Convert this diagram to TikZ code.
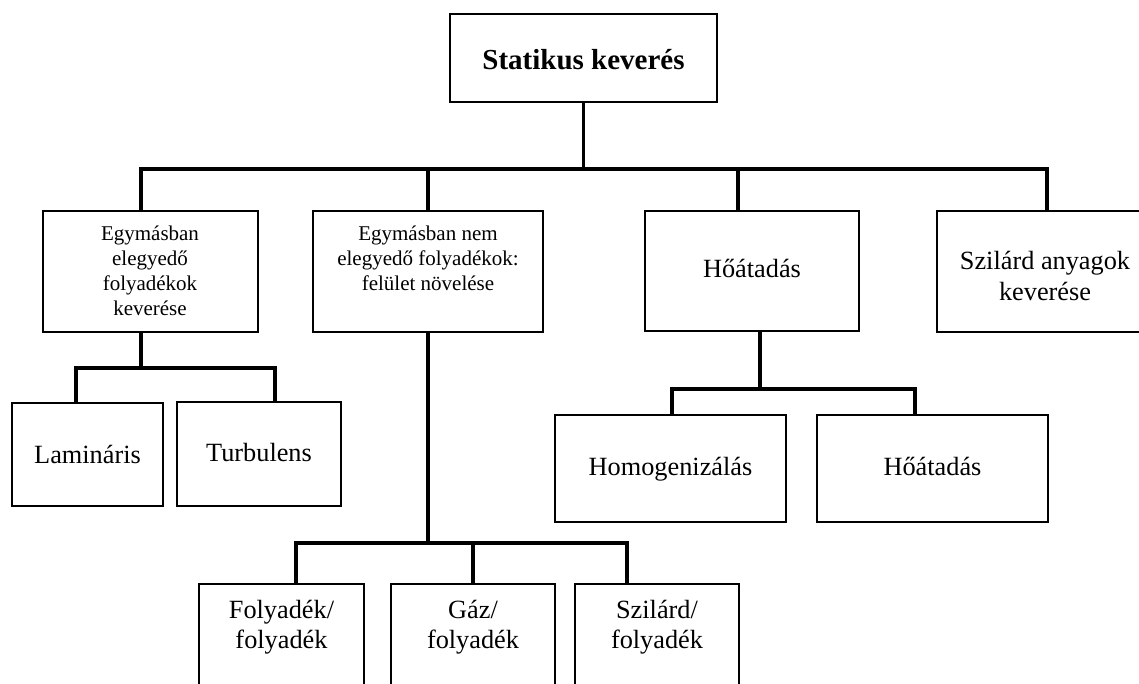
\documentclass[tikz,border=0pt]{standalone}
\usepackage{fontspec}
\setmainfont{Liberation Serif}
\usetikzlibrary{calc}

\newcommand{\lines}[1]{\begin{tabular}[t]{@{}c@{}}#1\end{tabular}}

\tikzset{
  box/.style={draw, line width=1.8pt, rectangle, inner sep=0pt, fill=white},
  conn/.style={draw, line width=3.8pt, line join=miter, line cap=rect},
  title/.style={anchor=base, inner sep=0pt, font=\fontsize{29}{35}\selectfont\bfseries},
  small/.style={anchor=base, inner sep=0pt, font=\fontsize{21}{25}\selectfont},
  big/.style={anchor=base, inner sep=0pt, font=\fontsize{26.3}{30}\selectfont},
}

\begin{document}
\begin{tikzpicture}[x=1pt, y=-1pt]
\useasboundingbox (0,0) rectangle (1139,684);
\clip (0,0) rectangle (1139,684);

% bus levels
\coordinate (busA) at (0,169);
\coordinate (busB) at (0,368);
\coordinate (busC) at (0,543);
\coordinate (busD) at (0,389);

% connectors first, boxes on top
% root
\coordinate (rootdrop) at (583.5,102);
% drop points on first-level boxes
\coordinate (d1) at (141,211);
\coordinate (d2) at (428,211);
\coordinate (d3) at (738,211);
\coordinate (d4) at (1047,211);

% boxes
\node[box, minimum width=267pt, minimum height=88pt]  (top) at (583.5,58) {};
\node[box, minimum width=215pt, minimum height=121pt] (b1)  at (150.5,271.5) {};
\node[box, minimum width=230pt, minimum height=121pt] (b2)  at (428,271.5) {};
\node[box, minimum width=214pt, minimum height=120pt] (b3)  at (752,271) {};
\node[box, minimum width=220pt, minimum height=121pt] (b4)  at (1047,271.5) {};
\node[box, minimum width=151pt, minimum height=103pt] (lam) at (87.5,454.5) {};
\node[box, minimum width=164pt, minimum height=104pt] (tur) at (259,454) {};
\node[box, minimum width=231pt, minimum height=107pt] (hom) at (670.5,468.5) {};
\node[box, minimum width=231pt, minimum height=107pt] (ho2) at (932.5,468.5) {};
\node[box, minimum width=165pt, minimum height=136pt] (f1)  at (281.5,652) {};
\node[box, minimum width=164pt, minimum height=136pt] (f2)  at (473,652) {};
\node[box, minimum width=164pt, minimum height=136pt] (f3)  at (657,652) {};

% first level
\draw[conn] (top.south) -- (top.south |- busA);
\draw[conn] ([xshift=-9.5pt]b1.north) |- (busA -| d4) -- ([xshift=0pt]b4.north);
\draw[conn] (b2.north) -- (b2.north |- busA);
\draw[conn] ([xshift=-14pt]b3.north) -- ([xshift=-14pt]b3.north |- busA);

% under b1
\draw[conn] ([xshift=-9.5pt]b1.south) -- ([xshift=-9.5pt]b1.south |- busB);
\draw[conn] ([xshift=-11.5pt]lam.north) |- ([xshift=16pt]tur.north |- busB) -- ([xshift=16pt]tur.north);

% under b2
\draw[conn] (b2.south) -- (b2.south |- busC);
\draw[conn] ([xshift=14.5pt]f1.north) |- ([xshift=-30pt]f3.north |- busC) -- ([xshift=-30pt]f3.north);
\draw[conn] (f2.north) -- (f2.north |- busC);

% under b3
\draw[conn] ([xshift=8pt]b3.south) -- ([xshift=8pt]b3.south |- busD);
\draw[conn] ([xshift=1.5pt]hom.north) |- ([xshift=-17.5pt]ho2.north |- busD) -- ([xshift=-17.5pt]ho2.north);

% labels
\node[title] (ttop) at (583.5,70) {Statikus keverés};
\node[small] (t1) at (150,241) {\lines{Egymásban\\elegyedő\\folyadékok\\keverése}};
\node[small] (t2) at (428,241) {\lines{Egymásban nem\\elegyedő folyadékok:\\felület növelése}};
\node[big] (t3) at (752,277) {Hőátadás};
\node[big] (t4) at (1045,270) {\lines{Szilárd anyagok\\keverése}};
\node[big] (tlam) at (87.5,463) {Lamináris};
\node[big] (ttur) at (259,461) {Turbulens};
\node[big] (thom) at (670.5,475) {Homogenizálás};
\node[big] (tho2) at (932.5,475) {Hőátadás};
\node[big] (tf1) at (281.5,618) {\lines{Folyadék/\\folyadék}};
\node[big] (tf2) at (473,618) {\lines{Gáz/\\folyadék}};
\node[big] (tf3) at (657,618) {\lines{Szilárd/\\folyadék}};
\end{tikzpicture}
\end{document}
